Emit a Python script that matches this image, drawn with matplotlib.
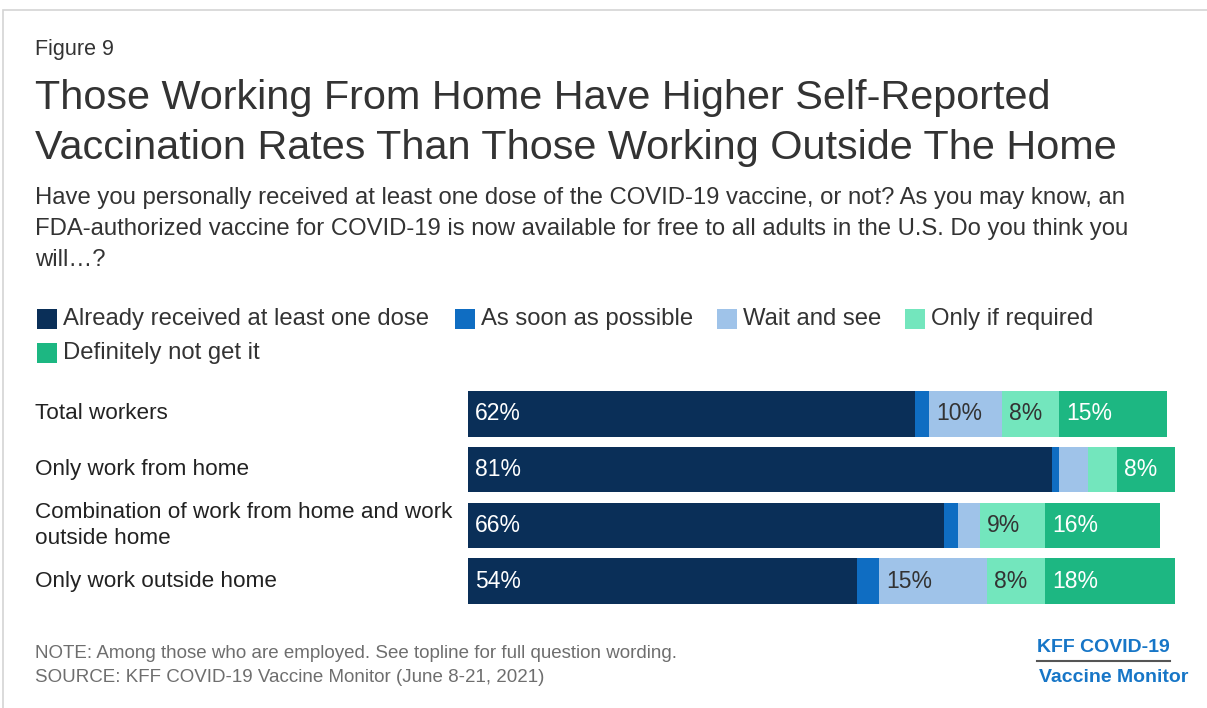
import numpy as np
import matplotlib
matplotlib.use("Agg")
import matplotlib.pyplot as plt
from matplotlib.patches import Rectangle

# data
categories = ["Total workers", "Only work from home",
              "Combination of work from home and work\noutside home",
              "Only work outside home"]
series_names = ["Already received at least one dose", "As soon as possible",
                "Wait and see", "Only if required", "Definitely not get it"]
already = [62, 81, 66, 54]
asap = [2, 1, 2, 3]
wait_see = [10, 4, 3, 15]
only_req = [8, 4, 9, 8]
def_not = [15, 8, 16, 18]

colors = ["#0a2f58", "#0f6dc2", "#9fc3e9", "#73e6bd", "#1db782"]
label_colors = ["white", "white", "#333333", "#333333", "white"]

plt.rcParams['font.family'] = ['Liberation Sans', 'DejaVu Sans']

W, H = 1207, 708
fig = plt.figure(figsize=(W / 100, H / 100), dpi=100, facecolor="white")


def px(x, y):
    return x / W, 1 - y / H


# light frame around the figure
fig.patches.append(Rectangle(px(3, 712), (W + 10) / W, 702 / H, transform=fig.transFigure,
                             fill=False, edgecolor="#d4d4d4", linewidth=1.2))

txt = "#333333"
fig.text(*px(35, 49), "Figure 9", fontsize=15.5, color=txt, va="center")
fig.text(*px(35, 98), "Those Working From Home Have Higher Self-Reported", fontsize=29.8,
         color=txt, va="center")
fig.text(*px(35, 148), "Vaccination Rates Than Those Working Outside The Home", fontsize=29.8,
         color=txt, va="center")
subtitle = ["Have you personally received at least one dose of the COVID-19 vaccine, or not? As you may know, an",
            "FDA-authorized vaccine for COVID-19 is now available for free to all adults in the U.S. Do you think you",
            "will\u2026?"]
for i, s in enumerate(subtitle):
    fig.text(*px(35, 198 + 31 * i), s, fontsize=17.2, color=txt, va="center")

# legend
leg_pos = [(37, 319), (455, 319), (717, 319), (905, 319), (37, 353)]
for (lx, ly), name, c in zip(leg_pos, series_names, colors):
    fig.patches.append(Rectangle(px(lx, ly + 10), 20 / W, 20 / H, transform=fig.transFigure,
                                 facecolor=c, edgecolor="none"))
    fig.text(*px(lx + 26, ly), name, fontsize=17.2, color=txt, va="center")

# bars
ax = fig.add_axes([468 / W, 1 - 609 / H, 721 / W, 223 / H])
y = np.arange(len(categories))
data = [already, asap, wait_see, only_req, def_not]
left = np.zeros(len(categories))
for vals, c, lc in zip(data, colors, label_colors):
    vals = np.array(vals, dtype=float)
    ax.barh(y, vals, left=left, height=0.82, color=c, edgecolor="none")
    for yi, (l, v) in enumerate(zip(left, vals)):
        if v >= 5:
            ax.text(l + 1.0, yi, f"{int(v)}%", color=lc, fontsize=16.5, va="center", ha="left")
    left += vals
ax.set_xlim(0, 100)
ax.set_ylim(len(categories) - 0.5, -0.5)
ax.axis("off")

for yi, cat in enumerate(categories):
    yy = ax.transData.transform((0, yi))[1] / H
    fig.text(35 / W, yy, cat, fontsize=16.2, color="#222222", va="center", linespacing=1.3)

# footer
fig.text(*px(35, 653), "NOTE: Among those who are employed. See topline for full question wording.",
         fontsize=13.5, color="#6e6e6e", va="center")
fig.text(*px(35, 678), "SOURCE: KFF COVID-19 Vaccine Monitor (June 8-21, 2021)",
         fontsize=13.5, color="#6e6e6e", va="center")

logo_c = "#1776c7"
fig.text(*px(1170, 647), "KFF COVID-19", fontsize=14, color=logo_c, fontweight="bold",
         va="center", ha="right", family=["Liberation Sans Narrow", "Liberation Sans"])
fig.add_artist(plt.Line2D([1037 / W, 1170 / W], [1 - 661 / H, 1 - 661 / H],
                          transform=fig.transFigure, color="#555555", linewidth=1.5))
fig.text(*px(1188, 677), "Vaccine Monitor", fontsize=14, color=logo_c, fontweight="bold",
         va="center", ha="right", family=["Liberation Sans Narrow", "Liberation Sans"])

fig.savefig("out.png", dpi=100, facecolor="white")
